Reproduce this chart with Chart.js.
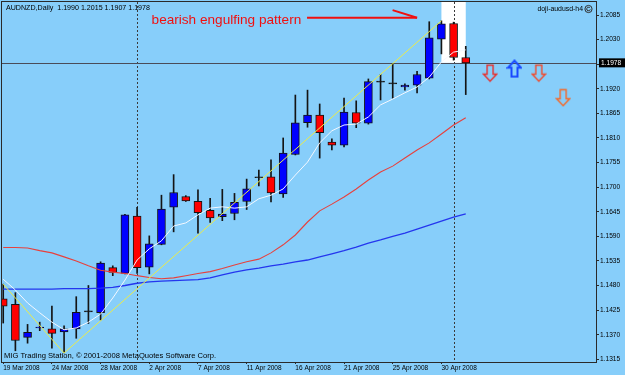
<!DOCTYPE html>
<html>
<head>
<meta charset="utf-8">
<script src="https://cdn.jsdelivr.net/npm/chart.js@4.4.0/dist/chart.umd.min.js"></script>
<style>
  html, body { margin: 0; padding: 0; background: #87cefa; }
  #wrap { width: 625px; height: 375px; }
</style>
</head>
<body>
<div id="wrap"><canvas id="chart" width="625" height="375"></canvas></div>
<script>
// AUDNZD daily bars, 19 Mar - 2 May 2008
const dates = ['19 Mar 2008', '20 Mar 2008', '21 Mar 2008', '23 Mar 2008', '24 Mar 2008', '25 Mar 2008',
  '26 Mar 2008', '27 Mar 2008', '28 Mar 2008', '30 Mar 2008', '31 Mar 2008', '1 Apr 2008', '2 Apr 2008',
  '3 Apr 2008', '4 Apr 2008', '6 Apr 2008', '7 Apr 2008', '8 Apr 2008', '9 Apr 2008', '10 Apr 2008',
  '11 Apr 2008', '13 Apr 2008', '14 Apr 2008', '15 Apr 2008', '16 Apr 2008', '17 Apr 2008', '18 Apr 2008',
  '20 Apr 2008', '21 Apr 2008', '22 Apr 2008', '23 Apr 2008', '24 Apr 2008', '25 Apr 2008', '27 Apr 2008',
  '28 Apr 2008', '29 Apr 2008', '30 Apr 2008', '1 May 2008', '2 May 2008'];
const opens = [1.1450, 1.1438, 1.1364, 1.1385, 1.1383, 1.1376, 1.1383, 1.1421, 1.1419, 1.1520, 1.1507,
  1.1635, 1.1521, 1.1572, 1.1655, 1.1679, 1.1668, 1.1648, 1.1634, 1.1641, 1.1668, 1.1721, 1.1723, 1.1685,
  1.1773, 1.1844, 1.1861, 1.1801, 1.1794, 1.1867, 1.1843, 1.1935, 1.1931, 1.1924, 1.1928, 1.1944, 1.2031,
  1.2066, 1.1990];
const highs = [1.1483, 1.1464, 1.1393, 1.1398, 1.1434, 1.1390, 1.1455, 1.1480, 1.1533, 1.1524, 1.1639,
  1.1655, 1.1591, 1.1682, 1.1728, 1.1681, 1.1694, 1.1675, 1.1695, 1.1686, 1.1718, 1.1738, 1.1761, 1.1810,
  1.1906, 1.1917, 1.1886, 1.1808, 1.1899, 1.1893, 1.1942, 1.1952, 1.1977, 1.1931, 1.1959, 1.2070, 1.2072,
  1.2069, 1.2015];
const lows = [1.1396, 1.1334, 1.1351, 1.1379, 1.1340, 1.1329, 1.1362, 1.1395, 1.1403, 1.1502, 1.1506,
  1.1507, 1.1506, 1.1571, 1.1600, 1.1668, 1.1597, 1.1621, 1.1625, 1.1627, 1.1650, 1.1703, 1.1667, 1.1677,
  1.1772, 1.1834, 1.1765, 1.1783, 1.1790, 1.1833, 1.1841, 1.1895, 1.1899, 1.1917, 1.1911, 1.1942, 1.1998,
  1.1984, 1.1907];
const closes = [1.1434, 1.1357, 1.1375, 1.1386, 1.1373, 1.1383, 1.1420, 1.1421, 1.1530, 1.1509, 1.1638,
  1.1520, 1.1573, 1.1651, 1.1688, 1.1669, 1.1643, 1.1631, 1.1640, 1.1666, 1.1696, 1.1721, 1.1687, 1.1776,
  1.1844, 1.1861, 1.1822, 1.1794, 1.1868, 1.1843, 1.1936, 1.1935, 1.1931, 1.1928, 1.1952, 1.2034, 1.2065,
  1.1990, 1.1978];

// moving averages (white / red / blue)
const maFast = [1.1494, 1.1470, 1.1441, 1.1419, 1.1398, 1.1381, 1.1385, 1.1398, 1.1416, 1.1452, 1.1492,
  1.1537, 1.1562, 1.1580, 1.1613, 1.1620, 1.1638, 1.1653, 1.1656, 1.1653, 1.1656, 1.1674, 1.1682, 1.1696,
  1.1727, 1.1756, 1.1799, 1.1826, 1.1839, 1.1841, 1.1857, 1.1884, 1.1897, 1.1911, 1.1924, 1.1946, 1.1980,
  1.2002, 1.2007];
const maMid = [1.1565, 1.1565, 1.1564, 1.1558, 1.1553, 1.1544, 1.1535, 1.1524, 1.1514, 1.1510, 1.1507,
  1.1502, 1.1498, 1.1495, 1.1497, 1.1502, 1.1507, 1.1511, 1.1518, 1.1526, 1.1533, 1.1539, 1.1553, 1.1571,
  1.1593, 1.1622, 1.1647, 1.1662, 1.1678, 1.1696, 1.1716, 1.1734, 1.1747, 1.1765, 1.1783, 1.1799, 1.1819,
  1.1839, 1.1855];
const maSlow = [1.1472, 1.1472, 1.1472, 1.1472, 1.1472, 1.1473, 1.1473, 1.1473, 1.1474, 1.1476, 1.1480,
  1.1485, 1.1488, 1.1490, 1.1491, 1.1492, 1.1493, 1.1497, 1.1504, 1.1510, 1.1515, 1.1519, 1.1524, 1.1528,
  1.1533, 1.1537, 1.1544, 1.1551, 1.1558, 1.1566, 1.1575, 1.1582, 1.1590, 1.1597, 1.1606, 1.1615, 1.1624,
  1.1633, 1.1640];

// zigzag pivots (bar index, price)
const zigzagIdx = [0, 5, 36];
const zigzagVal = [1.1483, 1.1329, 1.2072];

// signal arrows in the empty space right of the last bar
const signalIdx = [40, 42, 44, 46];
const signalVal = [1.1955, 1.1965, 1.1955, 1.1900];
const signalDir = ['down', 'up', 'down', 'down'];

const dateTicks = [0, 4, 8, 12, 16, 20, 24, 28, 32, 36];
const priceTicks = [1.1315, 1.1370, 1.1425, 1.1480, 1.1535, 1.1590, 1.1645, 1.1700, 1.1755, 1.1810,
  1.1865, 1.1920, 1.1975, 1.2030, 1.2085];
const separators = [11, 37];
const bid = 1.1978;
const title = 'AUDNZD,Daily  1.1990 1.2015 1.1907 1.1978';
const templateName = 'doji-audusd-h4';
const footer = 'MIG Trading Station, \u00a9 2001-2008 MetaQuotes Software Corp.';
const noteText = 'bearish engulfing pattern';
const notePos = { x: 12.19, y: 1.2065 };
const noteArrow = [[24.96, 1.2079, 34.0, 1.2079], [31.99, 1.2096, 34.0, 1.2079]];
const highlight = { x0: 36, x1: 38, y1: bid };

const FONT = '"Liberation Sans", Arial, sans-serif';
const BG = '#87cefa';
const FRAME = '#2a2a2a';

/** Hollow arrow glyph drawn into a small canvas, used as a point style. */
function arrowIcon(dir, color, lw) {
  const c = document.createElement('canvas');
  c.width = 16; c.height = 19;
  const g = c.getContext('2d');
  g.translate(1.5, 1.5);
  if (dir === 'up') { g.translate(0, 16); g.scale(1, -1); }
  g.beginPath();
  g.moveTo(3.5, 0); g.lineTo(9.5, 0); g.lineTo(9.5, 9); g.lineTo(13, 9);
  g.lineTo(6.5, 16); g.lineTo(0, 9); g.lineTo(3.5, 9); g.closePath();
  g.strokeStyle = color; g.lineWidth = lw; g.lineJoin = 'miter';
  g.stroke();
  return c;
}

const downColors = ['#e8302c', '#e8302c', '#f04c2e', '#f46a2a'];
const signalIcons = signalDir.map((d, i) => d === 'up' ? arrowIcon(d, '#1848ff', 2) : arrowIcon(d, downColors[i], 1.4));

const pts = arr => arr.map((v, i) => ({ x: i, y: v }));
const bodies = opens.map((o, i) => ({ x: i, y: [o, closes[i]] }));
const wicks = lows.map((l, i) => ({ x: i, y: [l, highs[i]] }));
const bodyColors = opens.map((o, i) => closes[i] > o ? '#0000ff' : (closes[i] < o ? '#ff0000' : '#141414'));

/** Drop the label overflow padding Chart.js adds, so the plot fills the frame. */
function noPad(s) {
  s.paddingTop = 0; s.paddingBottom = 0; s.paddingLeft = 0; s.paddingRight = 0;
}

/** Background, highlight box, separators and bid line under the bars; labels on top. */
const decor = {
  id: 'decor',
  beforeDraw(chart) {
    const { ctx, width, height } = chart;
    ctx.save();
    ctx.fillStyle = BG;
    ctx.fillRect(0, 0, width, height);
    ctx.restore();
  },
  beforeDatasetsDraw(chart) {
    const { ctx, chartArea: a, scales: { x, y } } = chart;
    ctx.save();
    // white highlight rectangle
    ctx.fillStyle = '#ffffff';
    const hx0 = x.getPixelForValue(highlight.x0), hx1 = x.getPixelForValue(highlight.x1);
    const hy1 = y.getPixelForValue(highlight.y1);
    ctx.fillRect(hx0, a.top, hx1 - hx0, hy1 - a.top);
    // period separators
    ctx.strokeStyle = '#3a3a3a';
    ctx.lineWidth = 1;
    ctx.setLineDash([2, 2]);
    separators.forEach(s => {
      const px = Math.round(x.getPixelForValue(s)) + 0.5;
      ctx.beginPath(); ctx.moveTo(px, a.top); ctx.lineTo(px, a.bottom); ctx.stroke();
    });
    ctx.setLineDash([]);
    // bid line
    const by = Math.round(y.getPixelForValue(bid)) + 0.5;
    ctx.strokeStyle = '#4a4c58';
    ctx.beginPath(); ctx.moveTo(a.left, by); ctx.lineTo(a.right, by); ctx.stroke();
    ctx.restore();
  },
  afterDraw(chart) {
    const { ctx, chartArea: a, scales: { x, y }, width } = chart;
    ctx.save();
    // frame
    ctx.strokeStyle = FRAME;
    ctx.lineWidth = 1;
    ctx.strokeRect(a.left - 0.5, a.top - 0.5, a.right - a.left + 1, a.bottom - a.top + 1);

    ctx.textBaseline = 'middle';
    ctx.fillStyle = '#000';
    ctx.font = '7.1px ' + FONT;
    ctx.textAlign = 'left';
    ctx.fillText(title, 6, 8);

    ctx.textAlign = 'right';
    ctx.font = '6.9px ' + FONT;
    ctx.fillText(templateName, 583, 9);
    ctx.beginPath(); ctx.arc(588.5, 9, 3.6, 0, Math.PI * 2);
    ctx.strokeStyle = '#303030'; ctx.stroke();
    ctx.beginPath(); ctx.arc(588.5, 9, 1.8, 0.2, Math.PI * 1.8); ctx.stroke();

    ctx.textAlign = 'left';
    ctx.font = '7.6px ' + FONT;
    ctx.fillText(footer, 4, 356);

    // annotation
    ctx.fillStyle = '#f01010';
    ctx.font = '13.6px ' + FONT;
    ctx.textBaseline = 'alphabetic';
    ctx.fillText(noteText, x.getPixelForValue(notePos.x), y.getPixelForValue(notePos.y));
    ctx.strokeStyle = '#f01010';
    ctx.lineWidth = 2;
    noteArrow.forEach(([x0, y0, x1, y1]) => {
      ctx.beginPath();
      ctx.moveTo(x.getPixelForValue(x0), y.getPixelForValue(y0));
      ctx.lineTo(x.getPixelForValue(x1), y.getPixelForValue(y1));
      ctx.stroke();
    });

    // bid price label
    const by = y.getPixelForValue(bid);
    ctx.fillStyle = '#000';
    ctx.fillRect(a.right + 3, by - 4.5, width - a.right - 3, 9);
    ctx.fillStyle = '#fff';
    ctx.font = '6.6px ' + FONT;
    ctx.textBaseline = 'middle';
    ctx.fillText(bid.toFixed(4), a.right + 5, by);
    ctx.restore();
  },
};

const line = (data, color, width) => ({
  type: 'line', data, borderColor: color, borderWidth: width, pointRadius: 0, tension: 0, order: 0,
});

new Chart(document.getElementById('chart'), {
  type: 'bar',
  data: {
    datasets: [
      line(zigzagIdx.map((v, i) => ({ x: v, y: zigzagVal[i] })), '#ecec48', 1),
      line(pts(maFast), '#f4f8ff', 1),
      line(pts(maMid), '#e8403c', 1.1),
      line(pts(maSlow), '#2436ee', 1.3),
      {
        type: 'line', data: signalIdx.map((v, i) => ({ x: v, y: signalVal[i] })), showLine: false,
        pointStyle: signalIcons, pointRadius: 8, order: 0,
      },
      {
        data: bodies, backgroundColor: bodyColors, borderColor: '#141414', borderWidth: 1,
        borderSkipped: false, barThickness: 8, minBarLength: 1, grouped: false, order: 1,
      },
      {
        data: wicks, backgroundColor: '#141414', borderWidth: 0, barThickness: 1, grouped: false, order: 2,
      },
    ],
  },
  options: {
    responsive: false, animation: false, events: [],
    layout: { autoPadding: false, padding: { left: 2, top: 2, right: 0, bottom: 0 } },
    plugins: { legend: { display: false }, tooltip: { enabled: false } },
    scales: {
      x: {
        type: 'linear', position: 'bottom', min: -0.1, max: 48.7, offset: false,
        afterBuildTicks: s => { s.ticks = dateTicks.map(v => ({ value: v })); },
        afterFit: s => { s.height = 13; noPad(s); },
        grid: { display: true, drawOnChartArea: false, drawTicks: true, tickLength: 2, offset: false, color: FRAME },
        border: { display: true, color: FRAME },
        ticks: {
          align: 'start', autoSkip: false, maxRotation: 0, padding: 0, color: '#000',
          font: { family: FONT, size: 6.5 }, callback: v => dates[v] || '',
        },
      },
      y: {
        type: 'linear', position: 'right', min: 1.13089, max: 1.21141, beginAtZero: false,
        afterBuildTicks: s => { s.ticks = priceTicks.map(v => ({ value: v })); },
        afterFit: s => { s.width = 29; noPad(s); },
        grid: { display: true, drawOnChartArea: false, drawTicks: true, tickLength: 3, color: FRAME },
        border: { display: true, color: FRAME },
        ticks: {
          padding: 1, color: '#000', font: { family: FONT, size: 6.6 },
          callback: v => Math.abs(v - bid) < 0.001 ? '' : v.toFixed(4),
        },
      },
    },
  },
  plugins: [decor],
});
</script>
</body>
</html>
